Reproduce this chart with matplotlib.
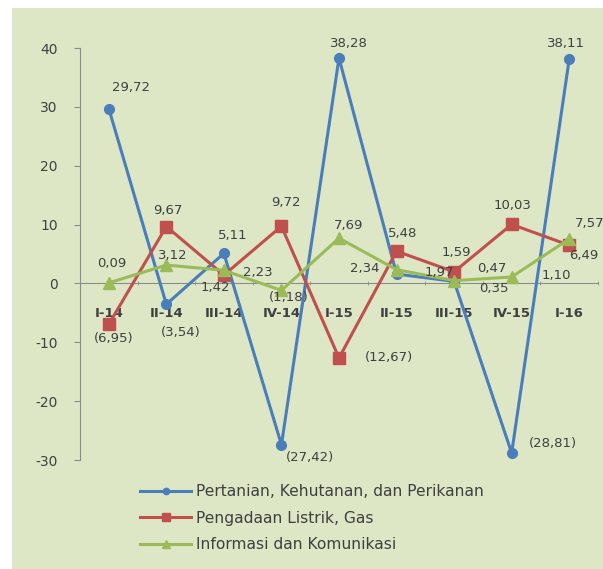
import matplotlib.pyplot as plt
from matplotlib.patches import Rectangle

plt.rcParams["axes.unicode_minus"] = False

# quarterly growth (%)
quarters = ["I-14", "II-14", "III-14", "IV-14", "I-15", "II-15", "III-15", "IV-15", "I-16"]
pertanian = [29.72, -3.54, 5.11, -27.42, 38.28, 1.59, 0.35, -28.81, 38.11]
listrik = [-6.95, 9.67, 1.42, 9.72, -12.67, 5.48, 1.97, 10.03, 6.49]
infokom = [0.09, 3.12, 2.23, -1.18, 7.69, 2.34, 0.47, 1.10, 7.57]
names = ["Pertanian, Kehutanan, dan Perikanan", "Pengadaan Listrik, Gas", "Informasi dan Komunikasi"]

# label offsets in pixels (dx, dy) so the labels don't pile up
off_blue = [(22, 21), (14, -28), (9, 18), (29, -13), (10, 15), (60, 22), (40, -7), (41, 9), (-3, 16)]
off_red = [(5, -14), (1, 16), (-9, -12), (4, 24), (50, 1), (6, 18), (-15, -1), (1, 19), (15, -10)]
off_green = [(3, 19), (6, 10), (34, -2), (7, -7), (10, 13), (-32, 1), (38, 12), (45, 1), (20, 15)]


def fmt(v):
    s = "%.2f" % abs(v)
    s = s.replace(".", ",")
    return "(%s)" % s if v < 0 else s


fig = plt.figure(figsize=(6.03, 5.69), dpi=100, facecolor="white")
fig.patches.append(Rectangle((12 / 603, 0), 1, 1 - 8 / 569, transform=fig.transFigure,
                             facecolor="#dde6c5", edgecolor="none", zorder=-1))

ax = fig.add_axes([80 / 603, 1 - 460 / 569, 518 / 603, 412 / 569])
ax.set_facecolor("none")

x = list(range(len(quarters)))
series = [
    (pertanian, "#4a7ebb", "o", 7, off_blue),
    (listrik, "#c0504d", "s", 8, off_red),
    (infokom, "#9bbb59", "^", 9, off_green),
]
for (vals, col, mk, ms, offs), name in zip(series, names):
    ax.plot(x, vals, color=col, lw=2.2, marker=mk, markersize=ms, label=name, zorder=3)
    for xi, v, (dx, dy) in zip(x, vals, offs):
        ax.annotate(fmt(v), (xi, v), xytext=(dx, dy), textcoords="offset pixels",
                    ha="center", va="center", fontsize=9.5, color="#404040", zorder=5)

ax.set_xlim(-0.5, len(quarters) - 0.5)
ax.set_ylim(-30, 40)
ax.set_yticks(range(-30, 41, 10))

for s in ["top", "right"]:
    ax.spines[s].set_visible(False)
ax.spines["bottom"].set_position(("data", 0))
ax.spines["left"].set_color("#8c8c8c")
ax.spines["bottom"].set_color("#8c8c8c")

ax.set_xticks(x)
ax.set_xticklabels(quarters, fontweight="bold", fontsize=9.5, color="#404040")
ax.tick_params(axis="x", length=0, pad=17)
ax.set_xticks([i + 0.5 for i in x], minor=True)
ax.tick_params(axis="x", which="minor", length=3, direction="inout", color="#8c8c8c")
ax.tick_params(axis="y", length=4, color="#8c8c8c", labelsize=10, labelcolor="#404040", pad=12)

fig.legend(loc="upper left", bbox_to_anchor=(140 / 603, 1 - 484 / 569), frameon=False,
           fontsize=11.2, handlelength=3.3, handletextpad=0.3, labelspacing=0.75,
           markerscale=0.65, borderpad=0, borderaxespad=0, labelcolor="#404040")

fig.savefig("out.png", dpi=100, facecolor=fig.get_facecolor())
